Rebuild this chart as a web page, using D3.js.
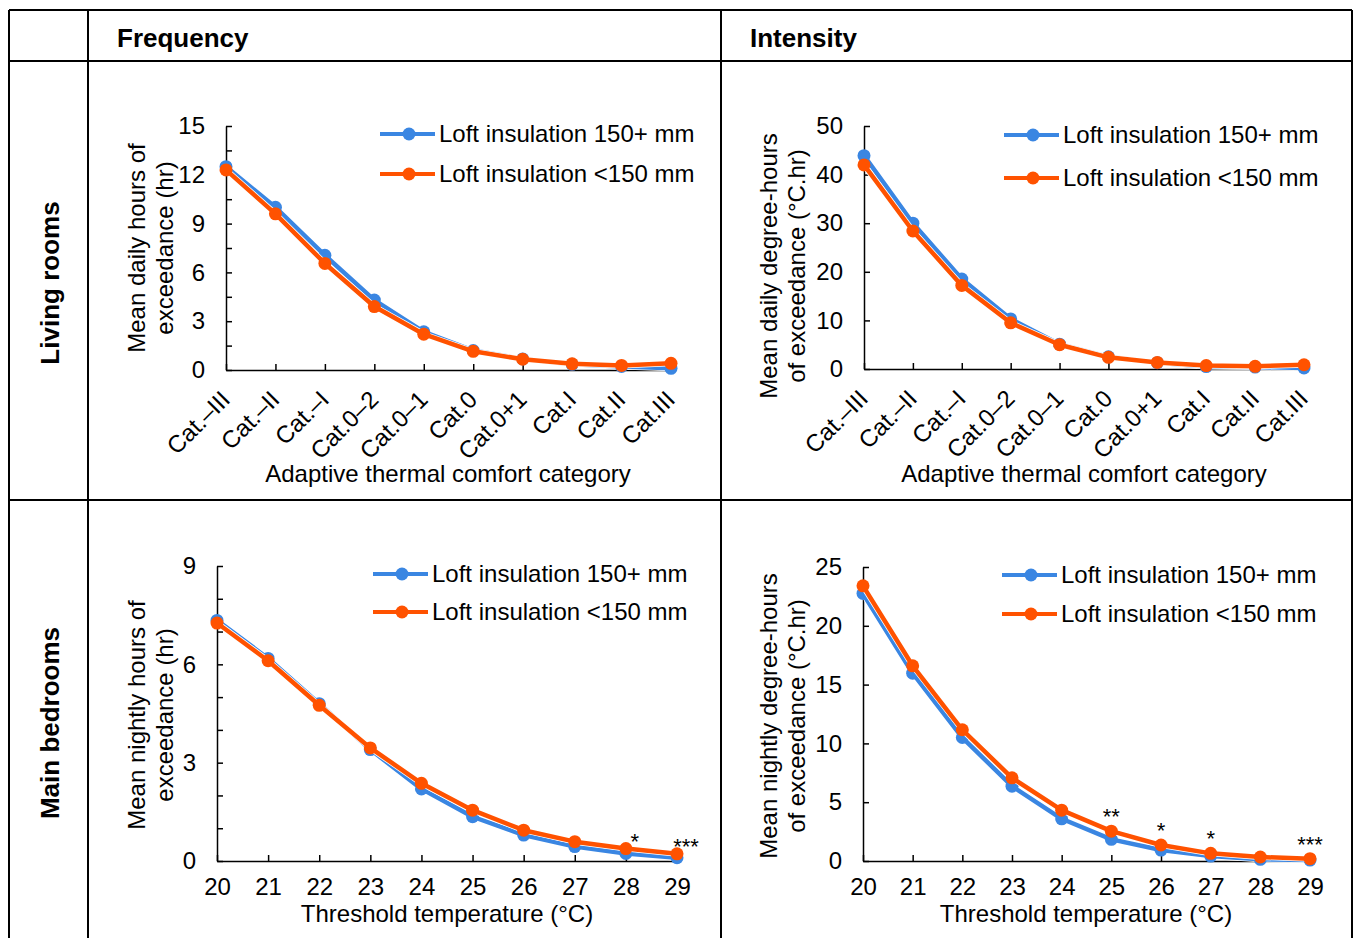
<!DOCTYPE html>
<html>
<head>
<meta charset="utf-8">
<script src="https://cdn.jsdelivr.net/npm/d3@7"></script>
<style>
  body { margin: 0; background: #fff; }
  text { font-family: Arial, "Liberation Sans", sans-serif; fill: #000; }
</style>
</head>
<body>
<div id="chart"></div>
<script>
// ---- data ----
var categories = ["Cat.\u2013III", "Cat.\u2013II", "Cat.\u2013I", "Cat.0\u20132", "Cat.0\u20131",
                  "Cat.0", "Cat.0+1", "Cat.I", "Cat.II", "Cat.III"];
var temps = ["20", "21", "22", "23", "24", "25", "26", "27", "28", "29"];
var seriesNames = ["Loft insulation 150+ mm", "Loft insulation <150 mm"];

// living rooms, frequency (hr)
var lrFreqHigh = [12.5, 10.0, 7.05, 4.3, 2.35, 1.2, 0.68, 0.35, 0.22, 0.1];
var lrFreqLow  = [12.3, 9.6, 6.55, 3.9, 2.2, 1.15, 0.66, 0.38, 0.28, 0.41];
// living rooms, intensity (°C.hr)
var lrIntHigh  = [43.9, 30.0, 18.5, 10.3, 5.1, 2.5, 1.3, 0.5, 0.4, 0.2];
var lrIntLow   = [42.0, 28.4, 17.2, 9.5, 5.0, 2.4, 1.35, 0.7, 0.55, 0.88];
// main bedrooms, frequency (hr)
var bedFreqHigh = [7.34, 6.18, 4.8, 3.4, 2.2, 1.35, 0.79, 0.44, 0.23, 0.1];
var bedFreqLow  = [7.26, 6.11, 4.75, 3.45, 2.37, 1.55, 0.94, 0.59, 0.38, 0.22];
var bedFreqSig  = ["", "", "", "", "", "", "", "", "*", "***"];
// main bedrooms, intensity (°C.hr)
var bedIntHigh = [22.75, 15.97, 10.5, 6.36, 3.59, 1.84, 0.93, 0.42, 0.14, 0.08];
var bedIntLow  = [23.4, 16.6, 11.16, 7.07, 4.32, 2.54, 1.36, 0.65, 0.34, 0.2];
var bedIntSig  = ["", "", "", "", "", "**", "*", "*", "", "***"];

var blue = "#3a86e2", orange = "#ff5200";

var W = 1354, H = 938;
var svg = d3.select("#chart").append("svg").attr("width", W).attr("height", H);

// ---- table frame ----
var frame = svg.append("g").attr("stroke", "#000").attr("stroke-width", 2);
frame.append("line").attr("x1", 9).attr("x2", 1352).attr("y1", 10).attr("y2", 10);
frame.append("line").attr("x1", 9).attr("x2", 1352).attr("y1", 61).attr("y2", 61);
frame.append("line").attr("x1", 9).attr("x2", 1352).attr("y1", 500).attr("y2", 500);
frame.append("line").attr("x1", 9).attr("x2", 9).attr("y1", 10).attr("y2", 940);
frame.append("line").attr("x1", 88).attr("x2", 88).attr("y1", 10).attr("y2", 940);
frame.append("line").attr("x1", 721).attr("x2", 721).attr("y1", 10).attr("y2", 940);
frame.append("line").attr("x1", 1352).attr("x2", 1352).attr("y1", 10).attr("y2", 940);

svg.append("text").attr("x", 117).attr("y", 38).attr("dy", "0.35em")
  .style("font-size", "26px").style("font-weight", "bold").text("Frequency");
svg.append("text").attr("x", 750).attr("y", 38).attr("dy", "0.35em")
  .style("font-size", "26px").style("font-weight", "bold").text("Intensity");
svg.append("text").attr("transform", "translate(50,283) rotate(-90)").attr("dy", "0.35em")
  .attr("text-anchor", "middle").style("font-size", "26px").style("font-weight", "bold").text("Living rooms");
svg.append("text").attr("transform", "translate(50,723) rotate(-90)").attr("dy", "0.35em")
  .attr("text-anchor", "middle").style("font-size", "26px").style("font-weight", "bold").text("Main bedrooms");

// ---- panels ----
var panels = [
  { x0: 226, x1: 671, yTop: 126, yBot: 370, max: 15, minor: 1.5, major: 3,
    cats: categories, rotate: true, high: lrFreqHigh, low: lrFreqLow,
    ytitle: ["Mean daily hours of", "exceedance (hr)"], ytx: [137, 165], yty: 248,
    xtitle: "Adaptive thermal comfort category", xtx: 448, xty: 474,
    lx: 380, ly: [134, 174] },
  { x0: 864, x1: 1304, yTop: 126, yBot: 369, max: 50, minor: 10, major: 10,
    cats: categories, rotate: true, high: lrIntHigh, low: lrIntLow,
    ytitle: ["Mean daily degree-hours", "of exceedance (\u00b0C.hr)"], ytx: [769, 797], yty: 266,
    xtitle: "Adaptive thermal comfort category", xtx: 1084, xty: 474,
    lx: 1004, ly: [135, 178] },
  { x0: 217, x1: 677, yTop: 566, yBot: 861, max: 9, minor: 1, major: 3,
    cats: temps, rotate: false, high: bedFreqHigh, low: bedFreqLow, sig: bedFreqSig, sdx: 9, sdy: 0,
    ytitle: ["Mean nightly hours of", "exceedance (hr)"], ytx: [137, 165], yty: 715,
    xtitle: "Threshold temperature (\u00b0C)", xtx: 447, xty: 914,
    lx: 373, ly: [574, 612] },
  { x0: 863, x1: 1310, yTop: 567, yBot: 861, max: 25, minor: 5, major: 5,
    cats: temps, rotate: false, high: bedIntHigh, low: bedIntLow, sig: bedIntSig, sdx: 0, sdy: -7,
    ytitle: ["Mean nightly degree-hours", "of exceedance (\u00b0C.hr)"], ytx: [769, 797], yty: 716,
    xtitle: "Threshold temperature (\u00b0C)", xtx: 1086, xty: 914,
    lx: 1002, ly: [575, 614] }
];

panels.forEach(function (p) {
  var g = svg.append("g");
  var x = d3.scalePoint().domain(p.cats).range([p.x0, p.x1]).padding(0);
  var y = d3.scaleLinear().domain([0, p.max]).range([p.yBot, p.yTop]);

  // y axis: inside ticks, labels every major step
  var minorTicks = d3.range(0, p.max + 1e-9, p.minor);
  var yAxis = d3.axisLeft(y).tickValues(minorTicks).tickSizeInner(-6).tickSizeOuter(0)
    .tickFormat(function (d) {
      var r = d / p.major;
      return Math.abs(r - Math.round(r)) < 1e-6 ? d3.format("d")(d) : "";
    });
  var ya = g.append("g").attr("transform", "translate(" + p.x0 + ",0)").call(yAxis);
  ya.select(".domain").attr("stroke", "#000").attr("stroke-width", 1.5);
  ya.selectAll(".tick line").attr("stroke", "#000").attr("stroke-width", 1.5);
  ya.selectAll(".tick text").attr("x", -21).style("font-size", "24px")
    .style("font-family", "Arial, 'Liberation Sans', sans-serif").attr("fill", "#000");

  // x axis
  var xAxis = d3.axisBottom(x).tickSizeInner(-6).tickSizeOuter(0);
  var xa = g.append("g").attr("transform", "translate(0," + p.yBot + ")").call(xAxis);
  xa.select(".domain").attr("stroke", "#000").attr("stroke-width", 1.5);
  xa.selectAll(".tick line").attr("stroke", "#000").attr("stroke-width", 1.5);
  var xt = xa.selectAll(".tick text").style("font-size", "24px")
    .style("font-family", "Arial, 'Liberation Sans', sans-serif").attr("fill", "#000");
  if (p.rotate) {
    xt.attr("y", 0).attr("dy", 0).attr("text-anchor", "end")
      .attr("transform", "translate(5,31) rotate(-45)");
  } else {
    xt.attr("y", 17).attr("dy", "0.71em");
  }

  // axis titles
  p.ytitle.forEach(function (t, i) {
    g.append("text").attr("transform", "translate(" + p.ytx[i] + "," + p.yty + ") rotate(-90)")
      .attr("dy", "0.35em").attr("text-anchor", "middle").style("font-size", "24px").text(t);
  });
  g.append("text").attr("x", p.xtx).attr("y", p.xty).attr("dy", "0.35em")
    .attr("text-anchor", "middle").style("font-size", "24px").text(p.xtitle);

  // series
  var line = d3.line().x(function (d, i) { return x(p.cats[i]); }).y(function (d) { return y(d); });
  [[p.high, blue], [p.low, orange]].forEach(function (s) {
    g.append("path").datum(s[0]).attr("d", line).attr("fill", "none")
      .attr("stroke", "#fff").attr("stroke-width", 6).attr("stroke-linejoin", "round");
    g.append("path").datum(s[0]).attr("d", line).attr("fill", "none")
      .attr("stroke", s[1]).attr("stroke-width", 4.5).attr("stroke-linejoin", "round");
    g.selectAll(null).data(s[0]).enter().append("circle")
      .attr("cx", function (d, i) { return x(p.cats[i]); })
      .attr("cy", function (d) { return y(d); })
      .attr("r", 6.5).attr("fill", s[1]);
  });

  // significance markers
  if (p.sig) {
    g.selectAll(null).data(p.sig).enter().append("text")
      .attr("x", function (d, i) { return x(p.cats[i]) + p.sdx; })
      .attr("y", function (d, i) { return y(Math.max(p.high[i], p.low[i])) + p.sdy; })
      .attr("text-anchor", "middle").style("font-size", "22px")
      .text(function (d) { return d; });
  }

  // legend
  [blue, orange].forEach(function (c, i) {
    var ly = p.ly[i];
    g.append("line").attr("x1", p.lx).attr("x2", p.lx + 55).attr("y1", ly).attr("y2", ly)
      .attr("stroke", c).attr("stroke-width", 4);
    g.append("circle").attr("cx", p.lx + 29).attr("cy", ly).attr("r", 6.5).attr("fill", c);
    g.append("text").attr("x", p.lx + 59).attr("y", ly).attr("dy", "0.35em")
      .style("font-size", "24px").text(seriesNames[i]);
  });
});
</script>
</body>
</html>
